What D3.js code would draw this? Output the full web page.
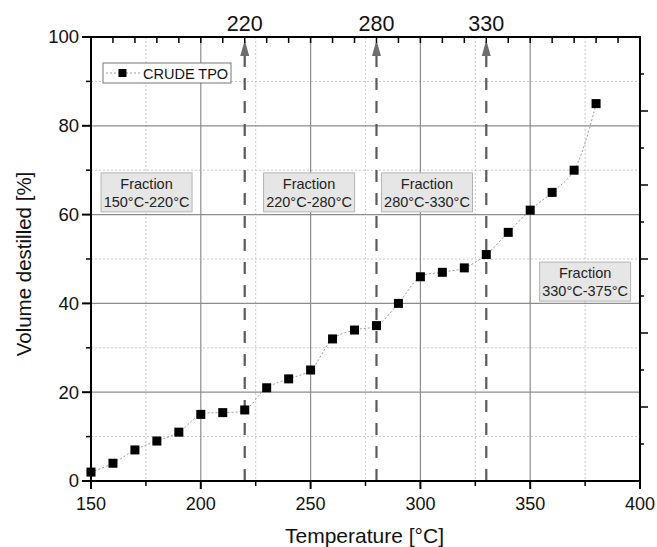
<!DOCTYPE html>
<html>
<head>
<meta charset="utf-8">
<script src="https://cdn.jsdelivr.net/npm/d3@7"></script>
<style>
  body { margin: 0; background: #fff; }
  svg { font-family: "Liberation Sans", Arial, sans-serif; }
</style>
</head>
<body>
<div id="chartArea"></div>
<script>
// data
const temps = [150, 160, 170, 180, 190, 200, 210, 220, 230, 240, 250, 260, 270, 280, 290, 300, 310, 320, 330, 340, 350, 360, 370, 380]
const volumes = [2, 4, 7, 9, 11, 15, 15.4, 16, 21, 23, 25, 32, 34, 35, 40, 46, 47, 48, 51, 56, 61, 65, 70, 85]
const cutTemps = [220, 280, 330]
const fractionLabels = ['150°C-220°C', '220°C-280°C', '280°C-330°C', '330°C-375°C']
// box anchor (centre temperature, top volume) of each fraction label
const fractionX = [175.3, 249.3, 303, 375]
const fractionY = [69.4, 69.4, 69.4, 49.3]
const xTickVals = [150, 200, 250, 300, 350, 400]
const yTickVals = [0, 20, 40, 60, 80, 100]

const width = 657
const height = 547
const margin = { top: 37, right: 17, bottom: 66, left: 91 }
const innerWidth = width - margin.left - margin.right
const innerHeight = height - margin.top - margin.bottom

const svg = d3.select('#chartArea').append('svg')
  .attr('width', width)
  .attr('height', height)

const g = svg.append('g').attr('transform', `translate(${margin.left},${margin.top})`)

const xScale = d3.scaleLinear().domain([150, 400]).range([0, innerWidth])
const yScale = d3.scaleLinear().domain([0, 100]).range([innerHeight, 0])
// right axis has its own 6 divisions
const yRight = d3.scaleLinear().domain([0, 12]).range([innerHeight, 0])

// minor grid (dotted)
g.append('g').selectAll('line')
  .data(d3.range(175, 400, 50))
  .join('line')
  .attr('x1', d => xScale(d)).attr('x2', d => xScale(d))
  .attr('y1', 0).attr('y2', innerHeight)
  .attr('stroke', '#c8c8c8').attr('stroke-dasharray', '2,2')
g.append('g').selectAll('line')
  .data(d3.range(10, 100, 20))
  .join('line')
  .attr('y1', d => yScale(d)).attr('y2', d => yScale(d))
  .attr('x1', 0).attr('x2', innerWidth)
  .attr('stroke', '#c8c8c8').attr('stroke-dasharray', '2,2')

// major grid
g.append('g').selectAll('line')
  .data([200, 250, 300, 350])
  .join('line')
  .attr('x1', d => xScale(d)).attr('x2', d => xScale(d))
  .attr('y1', 0).attr('y2', innerHeight)
  .attr('stroke', '#8c8c8c').attr('stroke-width', 1.2)
g.append('g').selectAll('line')
  .data([20, 40, 60, 80])
  .join('line')
  .attr('y1', d => yScale(d)).attr('y2', d => yScale(d))
  .attr('x1', 0).attr('x2', innerWidth)
  .attr('stroke', '#8c8c8c').attr('stroke-width', 1.2)

// fraction boxes
const boxW = 91
const boxH = 39
const boxG = g.append('g').selectAll('g')
  .data(fractionLabels)
  .join('g')
  .attr('transform', (d, i) => `translate(${xScale(fractionX[i]) - boxW / 2},${yScale(fractionY[i])})`)
boxG.append('rect')
  .attr('width', boxW).attr('height', boxH)
  .attr('fill', '#e6e6e6').attr('stroke', '#b4b4b4')
boxG.append('text')
  .attr('x', boxW / 2).attr('y', 16)
  .attr('text-anchor', 'middle').attr('font-size', 14.5).attr('fill', '#222')
  .text('Fraction')
boxG.append('text')
  .attr('x', boxW / 2).attr('y', 34)
  .attr('text-anchor', 'middle').attr('font-size', 14.5).attr('fill', '#222')
  .text(d => d)

// cut lines with arrows
const cutG = g.append('g').selectAll('g')
  .data(cutTemps)
  .join('g')
  .attr('transform', d => `translate(${xScale(d)},0)`)
cutG.append('line')
  .attr('y1', innerHeight).attr('y2', 19)
  .attr('stroke', '#5a5a5a').attr('stroke-width', 2.2)
  .attr('stroke-dasharray', '12,11')
cutG.append('path')
  .attr('d', 'M0,3 L-4.5,19 L4.5,19 Z')
  .attr('fill', '#6e6e6e')
cutG.append('text')
  .attr('y', -6)
  .attr('text-anchor', 'middle').attr('font-size', 21.5).attr('fill', '#111')
  .text(d => d)

// data line + markers
const line = d3.line()
  .x((d, i) => xScale(temps[i]))
  .y(d => yScale(d))
  .curve(d3.curveCatmullRom)
g.append('path')
  .attr('d', line(volumes))
  .attr('fill', 'none').attr('stroke', '#9a9a9a')
  .attr('stroke-width', 1).attr('stroke-dasharray', '2,2')
g.append('g').selectAll('rect')
  .data(volumes)
  .join('rect')
  .attr('x', (d, i) => xScale(temps[i]) - 4.5)
  .attr('y', d => yScale(d) - 4.5)
  .attr('width', 9).attr('height', 9)
  .attr('fill', '#000')

// frame
g.append('rect')
  .attr('width', innerWidth).attr('height', innerHeight)
  .attr('fill', 'none').attr('stroke', '#000').attr('stroke-width', 2)

// bottom axis
const bottom = g.append('g').attr('transform', `translate(0,${innerHeight})`)
bottom.selectAll('line.major').data(xTickVals).join('line')
  .attr('x1', d => xScale(d)).attr('x2', d => xScale(d))
  .attr('y1', 0).attr('y2', 8).attr('stroke', '#000').attr('stroke-width', 2)
bottom.selectAll('line.minor').data(d3.range(175, 400, 50)).join('line')
  .attr('x1', d => xScale(d)).attr('x2', d => xScale(d))
  .attr('y1', 0).attr('y2', 5).attr('stroke', '#000').attr('stroke-width', 1.5)
bottom.selectAll('text').data(xTickVals).join('text')
  .attr('x', d => xScale(d)).attr('y', 29)
  .attr('text-anchor', 'middle').attr('font-size', 18).attr('fill', '#111')
  .text(d => d)

// top axis (inward ticks every 10)
g.append('g').selectAll('line').data(d3.range(160, 400, 10)).join('line')
  .attr('x1', d => xScale(d)).attr('x2', d => xScale(d))
  .attr('y1', 0).attr('y2', 6).attr('stroke', '#000').attr('stroke-width', 1.5)

// left axis
const left = g.append('g')
left.selectAll('line.major').data(yTickVals).join('line')
  .attr('y1', d => yScale(d)).attr('y2', d => yScale(d))
  .attr('x1', -9).attr('x2', 0).attr('stroke', '#000').attr('stroke-width', 2)
left.selectAll('line.minor').data(d3.range(10, 100, 20)).join('line')
  .attr('y1', d => yScale(d)).attr('y2', d => yScale(d))
  .attr('x1', -5).attr('x2', 0).attr('stroke', '#000').attr('stroke-width', 1.5)
left.selectAll('text').data(yTickVals).join('text')
  .attr('x', -12).attr('y', d => yScale(d)).attr('dy', '0.35em')
  .attr('text-anchor', 'end').attr('font-size', 18.5).attr('fill', '#111')
  .text(d => d)

// right axis
const right = g.append('g').attr('transform', `translate(${innerWidth},0)`)
right.selectAll('line').data(d3.range(1, 12)).join('line')
  .attr('y1', d => yRight(d)).attr('y2', d => yRight(d))
  .attr('x1', 0).attr('x2', d => d % 2 === 0 ? 8 : 4)
  .attr('stroke', '#000').attr('stroke-width', 1.5)

// axis titles
svg.append('text')
  .attr('x', margin.left + innerWidth / 2 - 1).attr('y', 543)
  .attr('text-anchor', 'middle').attr('font-size', 21).attr('fill', '#111')
  .text('Temperature [°C]')
svg.append('text')
  .attr('transform', 'translate(31,264) rotate(-90)')
  .attr('text-anchor', 'middle').attr('font-size', 20.5).attr('fill', '#111')
  .text('Volume destilled [%]')

// legend
const legend = svg.append('g').attr('transform', 'translate(103,63)')
legend.append('rect')
  .attr('width', 128).attr('height', 20)
  .attr('fill', '#fff').attr('stroke', '#777')
legend.append('line')
  .attr('x1', 3).attr('x2', 37).attr('y1', 10).attr('y2', 10)
  .attr('stroke', '#9a9a9a').attr('stroke-dasharray', '2,2')
legend.append('rect')
  .attr('x', 15.5).attr('y', 6).attr('width', 8).attr('height', 8).attr('fill', '#000')
legend.append('text')
  .attr('x', 40).attr('y', 15.5)
  .attr('font-size', 14.5).attr('fill', '#111')
  .text('CRUDE TPO')
</script>
</body>
</html>
